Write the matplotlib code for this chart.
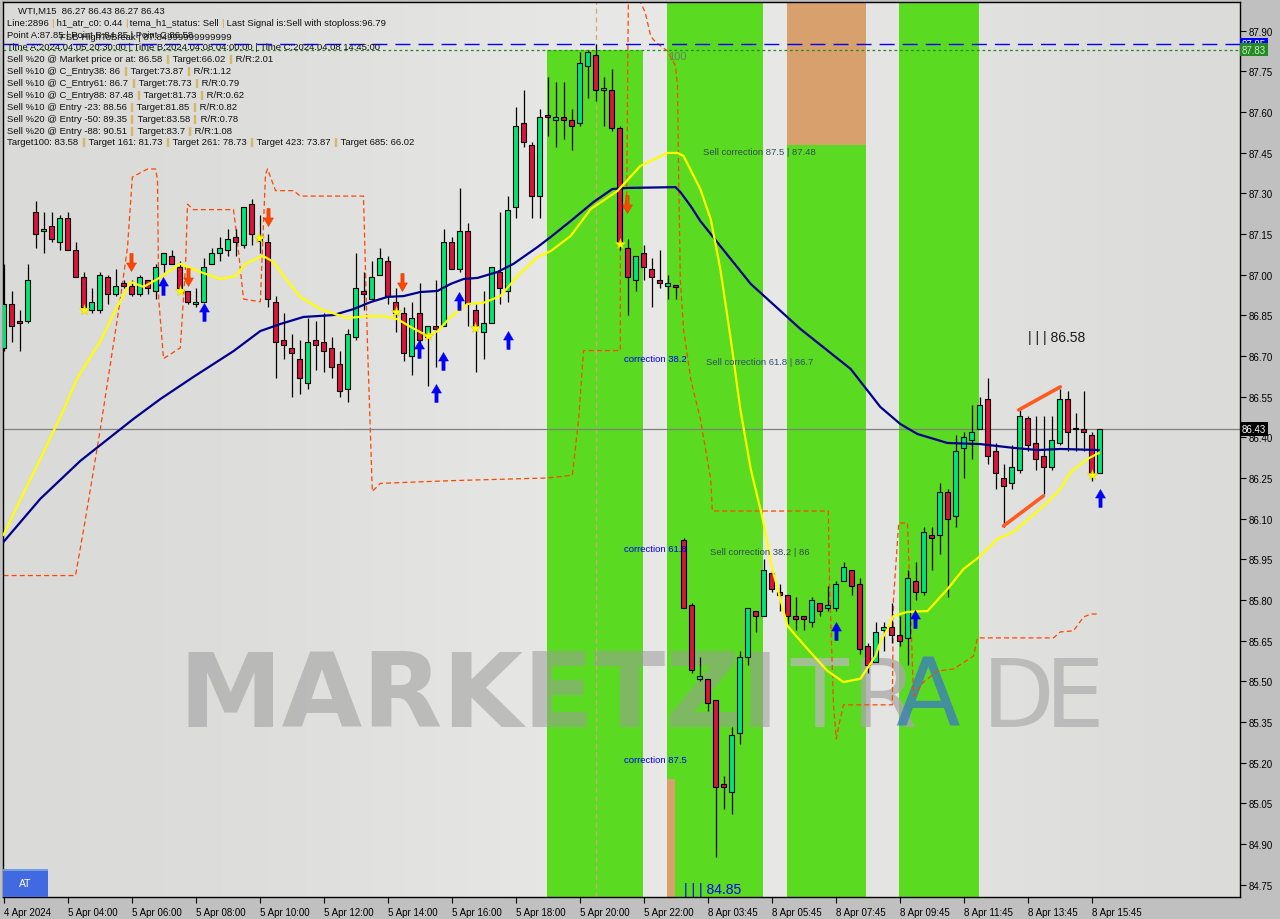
import numpy as np
import matplotlib
matplotlib.use("Agg")
import matplotlib.pyplot as plt
from matplotlib.patches import Rectangle
from matplotlib.path import Path

plt.rcParams['font.family'] = ['Liberation Sans', 'DejaVu Sans']

# ---------------- data ----------------
opens = [86.73, 86.89, 86.83, 86.83, 87.23, 87.16, 87.18, 87.12, 87.21, 87.09,
         86.99, 86.87, 86.87, 86.99, 86.93, 86.97, 86.96, 86.93, 86.98, 86.94,
         87.04, 87.07, 87.03, 86.94, 86.89, 86.90, 87.04, 87.08, 87.09, 87.14,
         87.11, 87.26, 87.13, 87.12, 86.90, 86.76, 86.73, 86.69, 86.60, 86.76,
         86.75, 86.73, 86.67, 86.58, 86.77, 86.94, 86.91, 87.00, 87.05, 86.90,
         86.86, 86.70, 86.86, 86.77, 86.81, 86.81, 87.12, 87.02, 87.16, 86.87,
         86.79, 86.82, 87.01, 86.94, 87.25, 87.56, 87.48, 87.29, 87.59, 87.57,
         87.58, 87.57, 87.56, 87.77, 87.81, 87.68, 87.68, 87.54, 87.10, 86.98,
         87.08, 87.02, 86.98, 86.96, 86.96, 86.02, 85.78, 85.51, 85.51, 85.43,
         85.12, 85.09, 85.31, 85.59, 85.76, 85.74, 85.90, 85.83, 85.82, 85.74,
         85.74, 85.72, 85.79, 85.77, 85.77, 85.87, 85.91, 85.86, 85.63, 85.57,
         85.69, 85.70, 85.67, 85.66, 85.87, 85.83, 86.04, 86.04, 86.20, 86.11,
         86.36, 86.39, 86.43, 86.54, 86.35, 86.25, 86.23, 86.28, 86.47, 86.38,
         86.33, 86.29, 86.38, 86.54, 86.43, 86.43, 86.41, 86.27]
highs = [87.04, 86.94, 86.87, 87.04, 87.27, 87.23, 87.23, 87.22, 87.23, 87.12,
         87.01, 86.95, 87.01, 87.00, 87.02, 86.98, 86.98, 87.00, 86.98, 87.04,
         87.08, 87.09, 87.05, 86.94, 86.95, 87.06, 87.10, 87.14, 87.17, 87.17,
         87.25, 87.28, 87.22, 87.15, 86.92, 86.86, 86.78, 86.76, 86.84, 86.83,
         86.86, 86.77, 86.72, 86.80, 87.08, 87.01, 87.05, 87.10, 87.07, 86.95,
         86.88, 86.90, 86.97, 86.81, 86.98, 87.17, 87.14, 87.32, 87.19, 86.89,
         86.94, 87.03, 87.23, 87.29, 87.62, 87.68, 87.49, 87.61, 87.73, 87.71,
         87.71, 87.61, 87.82, 87.83, 87.85, 87.73, 87.76, 87.55, 87.13, 87.07,
         87.11, 87.06, 87.09, 87.00, 86.96, 86.03, 85.79, 85.59, 85.51, 85.43,
         85.15, 85.33, 85.61, 85.77, 85.76, 85.95, 85.91, 85.86, 85.82, 85.81,
         85.74, 85.81, 85.79, 85.85, 85.87, 85.94, 85.91, 85.88, 85.64, 85.72,
         85.72, 85.79, 85.74, 85.91, 85.94, 86.07, 86.07, 86.23, 86.21, 86.41,
         86.42, 86.52, 86.55, 86.62, 86.38, 86.30, 86.37, 86.50, 86.48, 86.48,
         86.48, 86.48, 86.58, 86.57, 86.49, 86.57, 86.42, 86.43]
lows = [86.72, 86.75, 86.72, 86.82, 87.10, 87.08, 87.12, 87.09, 87.09, 86.99,
        86.87, 86.86, 86.86, 86.89, 86.92, 86.95, 86.92, 86.92, 86.93, 86.91,
        87.01, 87.04, 86.95, 86.89, 86.88, 86.90, 87.04, 87.05, 87.07, 87.07,
        87.10, 87.11, 87.08, 86.88, 86.62, 86.69, 86.55, 86.56, 86.58, 86.65,
        86.64, 86.62, 86.55, 86.53, 86.76, 86.87, 86.91, 87.00, 86.89, 86.79,
        86.68, 86.63, 86.74, 86.59, 86.66, 86.81, 87.02, 87.01, 86.81, 86.64,
        86.69, 86.82, 86.89, 86.90, 87.21, 87.47, 87.21, 87.21, 87.51, 87.47,
        87.50, 87.46, 87.55, 87.65, 87.64, 87.55, 87.53, 87.09, 86.85, 86.94,
        86.98, 86.88, 86.95, 86.91, 86.91, 85.77, 85.53, 85.50, 85.39, 84.85,
        85.03, 85.01, 85.27, 85.56, 85.68, 85.74, 85.83, 85.76, 85.71, 85.69,
        85.69, 85.70, 85.74, 85.76, 85.76, 85.87, 85.82, 85.60, 85.53, 85.57,
        85.61, 85.64, 85.63, 85.56, 85.80, 85.82, 85.91, 85.97, 85.81, 86.07,
        86.25, 86.32, 86.43, 86.30, 86.21, 86.07, 86.21, 86.27, 86.35, 86.28,
        86.19, 86.28, 86.37, 86.35, 86.35, 86.35, 86.24, 86.27]
closes = [86.89, 86.81, 86.82, 86.98, 87.15, 87.17, 87.13, 87.21, 87.09, 86.99,
          86.88, 86.90, 87.00, 86.93, 86.96, 86.96, 86.93, 86.99, 86.95, 87.03,
          87.08, 87.04, 86.95, 86.90, 86.90, 87.03, 87.08, 87.10, 87.13, 87.12,
          87.25, 87.15, 87.125, 86.91, 86.75, 86.74, 86.71, 86.62, 86.75, 86.74,
          86.72, 86.66, 86.57, 86.78, 86.95, 86.93, 86.99, 87.06, 86.92, 86.86,
          86.71, 86.84, 86.76, 86.81, 86.80, 87.12, 87.02, 87.16, 86.89, 86.81,
          86.82, 87.03, 86.95, 87.24, 87.55, 87.49, 87.29, 87.58, 87.58, 87.58,
          87.57, 87.55, 87.78, 87.82, 87.68, 87.69, 87.54, 87.12, 86.99, 87.07,
          87.03, 86.99, 86.97, 86.97, 86.955, 85.77, 85.54, 85.52, 85.42, 85.11,
          85.11, 85.30, 85.59, 85.77, 85.74, 85.91, 85.84, 85.82, 85.74, 85.73,
          85.73, 85.80, 85.76, 85.78, 85.86, 85.92, 85.85, 85.62, 85.56, 85.68,
          85.70, 85.67, 85.65, 85.88, 85.83, 86.05, 86.03, 86.20, 86.10, 86.35,
          86.40, 86.42, 86.52, 86.33, 86.27, 86.22, 86.29, 86.48, 86.37, 86.32,
          86.29, 86.39, 86.54, 86.42, 86.43, 86.42, 86.27, 86.43]

tick_bars = [0, 8, 16, 24, 32, 40, 48, 56, 64, 72, 80, 88, 96, 104, 112, 120, 128, 136]
tick_labels = ["4 Apr 2024", "5 Apr 04:00", "5 Apr 06:00", "5 Apr 08:00", "5 Apr 10:00",
               "5 Apr 12:00", "5 Apr 14:00", "5 Apr 16:00", "5 Apr 18:00", "5 Apr 20:00",
               "5 Apr 22:00", "8 Apr 03:45", "8 Apr 05:45", "8 Apr 07:45", "8 Apr 09:45",
               "8 Apr 11:45", "8 Apr 13:45", "8 Apr 15:45"]
price_ticks = [84.75, 84.90, 85.05, 85.20, 85.35, 85.50, 85.65, 85.80, 85.95, 86.10,
               86.25, 86.40, 86.55, 86.70, 86.85, 87.00, 87.15, 87.30, 87.45, 87.60,
               87.75, 87.90]

# fast (yellow) and slow (navy) averages
yellow_x = [0, 2.1, 4.6, 7.1, 9.25, 12.1, 14, 15.9, 17.5, 19.25, 22.1, 24.6, 27.1, 29,
            30.25, 32.4, 33.75, 35, 37.1, 39.6, 43, 45.5, 47.5, 49.25, 50.9, 53, 54.25,
            55.9, 58, 60, 62.1, 64.25, 66.75, 68.4, 70.9, 73.4, 76.75, 79.6, 83, 84.25,
            85, 87.1, 88.4, 89.6, 90.9, 92.1, 93.4, 94.9, 96.1, 98, 100.5, 103, 105,
            107.1, 109, 109.6, 110.5, 111.25, 113, 115.5, 118, 120, 122.1, 124.25,
            126.25, 128.4, 130.5, 132.1, 133.4, 135.5, 136.9]
yellow_y = [86.04, 86.17, 86.32, 86.475, 86.62, 86.755, 86.87, 86.973, 86.955, 86.984,
            87.04, 87.01, 86.984, 86.995, 87.04, 87.07, 87.047, 86.995, 86.918, 86.873,
            86.84, 86.847, 86.847, 86.836, 86.807, 86.774, 86.792, 86.844, 86.892,
            86.896, 86.921, 86.995, 87.065, 87.087, 87.143, 87.242, 87.309, 87.401,
            87.449, 87.449, 87.438, 87.316, 87.205, 87.021, 86.763, 86.504, 86.283,
            86.099, 85.914, 85.704, 85.619, 85.538, 85.497, 85.509, 85.593, 85.645,
            85.693, 85.741, 85.756, 85.759, 85.84, 85.914, 85.962, 86.025, 86.051,
            86.106, 86.161, 86.209, 86.272, 86.32, 86.342]
navy_x = [0, 4.6, 9.6, 16.25, 19.6, 23.75, 28.75, 32.1, 34.6, 37.5, 41.25, 43.75, 45.9,
          48, 50, 52.1, 54.25, 55.9, 57.5, 59.25, 61.75, 63.75, 66.75, 68.4, 70.9,
          73.75, 76.1, 78, 84, 84.6, 85.9, 87.1, 89.4, 93.4, 99.6, 105.9, 109.6,
          112.1, 114.25, 118, 122.1, 126.25, 129.25, 132.1, 136.9]
navy_y = [86.014, 86.173, 86.313, 86.468, 86.541, 86.623, 86.718, 86.792, 86.818,
          86.844, 86.851, 86.873, 86.899, 86.918, 86.921, 86.936, 86.94, 86.966,
          86.984, 86.988, 87.01, 87.04, 87.102, 87.139, 87.198, 87.268, 87.316,
          87.32, 87.323, 87.305, 87.253, 87.198, 87.113, 86.966, 86.8, 86.652,
          86.512, 86.449, 86.412, 86.379, 86.375, 86.361, 86.353, 86.357, 86.353]
# dashed envelope line
env_x = [0, 9, 10.25, 12.1, 14.4, 15.5, 16.1, 18, 19, 19.25, 19.4, 20, 22.1, 22.75, 23,
         23.75, 28.75, 29.25, 30, 32.1, 32.75, 33, 34, 36.25, 37.1, 45, 45.5, 46.1,
         47.1, 55.9, 68, 71.1, 71.9, 72.5, 77.1, 77.1, 77.9, 78.1, 78.25, 79.4, 79.6,
         80.2, 80.9, 81.5, 83, 84, 84.25, 84.4, 84.6, 85, 85.9, 87.1, 88.4, 88.6,
         103.1, 103.25, 103.75, 104.1, 104.4, 105, 111.1, 111.25, 111.9, 113, 113.75,
         115, 116.75, 118.75, 121.25, 121.75, 131.25, 132.1, 133.75, 135, 135.9, 136.9]
env_y = [85.89, 85.89, 86.10, 86.43, 86.87, 87.10, 87.36, 87.39, 87.39, 87.35, 86.91,
         86.69, 86.73, 87.03, 87.26, 87.24, 87.24, 87.12, 86.91, 86.90, 87.37, 87.39,
         87.31, 87.31, 87.29, 87.29, 86.74, 86.20, 86.23, 86.24, 86.25, 86.26, 86.47,
         86.72, 86.72, 87.216, 87.279, 88.006, 88.05, 88.05, 88.006, 87.969, 87.88,
         87.858, 87.825, 87.77, 87.696, 87.353, 86.984, 86.80, 86.615, 86.468, 86.246,
         86.128, 86.128, 85.866, 85.409, 85.287, 85.335, 85.413, 85.413, 85.804,
         86.084, 86.084, 85.446, 85.497, 85.538, 85.545, 85.593, 85.66, 85.66, 85.682,
         85.686, 85.737, 85.748, 85.748]

# zones: (start bar, end bar, top price)
green_zones = [(67.94, 79.94, 87.83), (82.94, 94.94, 88.2), (97.94, 107.8, 87.48),
               (111.94, 121.94, 88.2)]
orange_zones = [(97.94, 107.8, 87.48, 88.2), (82.94, 83.94, 84.5, 85.14)]

up_arrows_x = [19.9, 25, 51.9, 54.9, 54, 56.9, 63, 104, 113.9, 137]
up_arrows_y = [86.958, 86.862, 86.726, 86.682, 86.564, 86.903, 86.759, 85.686, 85.73, 86.176]
dn_arrows_x = [15.9, 23, 33.1, 49.75, 77.9]
dn_arrows_y = [87.047, 86.991, 87.213, 86.973, 87.261]
stars_x = [10, 22, 31.9, 49, 53, 58.9, 77, 136]
stars_y = [86.87, 86.94, 87.135, 86.862, 86.774, 86.803, 87.113, 86.261]
trend_top = ([126.9, 132.1], [86.501, 86.586])
trend_bot = ([125, 130], [86.073, 86.184])

line_A = 87.85
line_fsb = 87.83
last_price = 86.43
time_A_bar = 74

# ---------------- figure ----------------
W, H = 1280, 920
fig = plt.figure(figsize=(W / 100, H / 100), dpi=100, facecolor='#c0c0c0')
L, R, T, B = 3, 1240, 3, 898
ax = fig.add_axes([L / W, 1 - B / H, (R - L) / W, (B - T) / H])
ax.set_xlim(-0.0625, 154.56)
ax.set_ylim(84.704, 88.006)


def axp(px, py):
    return ((px - L) / (R - L), (B - py) / (B - T))


# background gradient (light centre)
gx = np.linspace(0, 1, 400)
shade = 0.855 + 0.055 * np.exp(-((gx - 0.55) / 0.30) ** 2)
bg = np.stack([shade, shade, shade * 0.992], axis=-1)[None, :, :].repeat(4, axis=0)
ax.imshow(bg, extent=[0, 1, 0, 1], transform=ax.transAxes, aspect='auto', zorder=0,
          interpolation='bilinear')

for x0, x1, top in green_zones:
    ax.add_patch(Rectangle((x0, 84.5), x1 - x0, top - 84.5, facecolor='#5ada20',
                           edgecolor='none', zorder=1))
for x0, x1, y0, y1 in orange_zones:
    ax.add_patch(Rectangle((x0, y0), x1 - x0, y1 - y0, facecolor='#d8a06c',
                           edgecolor='none', zorder=1.1))

# watermark
ax.text(*axp(178, 727), "MARKETZI", transform=ax.transAxes, fontsize=75,
        fontweight='heavy', family='DejaVu Sans', color='#9c9c9c', alpha=0.55,
        ha='left', va='baseline', zorder=1.5)
for ch, px, col in [("T", 790, '#b8b8b8'), ("R", 852, '#a8a8a8'), ("A", 895, '#3b78c4'),
                    ("D", 982, '#b0b0b0'), ("E", 1045, '#b0b0b0')]:
    ax.text(*axp(px, 727), ch, transform=ax.transAxes, fontsize=68, family='DejaVu Sans',
            color=col, alpha=0.75, ha='left', va='baseline', zorder=1.5)

# envelope dashed line and time line
ax.plot(env_x, env_y, color='#ff4500', lw=0.9, ls=(0, (4, 2.5)), zorder=2)
ax.axvline(time_A_bar, color='#d2a679', lw=0.9, ls=(0, (4, 3)), zorder=2)

# horizontal lines
ax.axhline(line_A, color='#0000ff', lw=1.0, ls=(0, (10.8, 5.8)), zorder=2.2)
ax.axhline(line_fsb, color='#228b22', lw=0.9, ls=(0, (2.2, 2.2)), zorder=2.2)
ax.axhline(last_price, color='#808080', lw=0.9, zorder=2.2)

# candles
idx = np.arange(len(opens))
o = np.array(opens); c = np.array(closes); h = np.array(highs); lo = np.array(lows)
ax.vlines(idx, lo, h, color='black', lw=0.9, zorder=3)
bull = c >= o
bottoms = np.minimum(o, c)
heights = np.maximum(np.abs(c - o), 0.006)
ax.bar(idx[bull], heights[bull], bottom=bottoms[bull], width=0.6, color='#00e676',
       edgecolor='black', linewidth=0.8, zorder=3.2)
ax.bar(idx[~bull], heights[~bull], bottom=bottoms[~bull], width=0.6, color='#dc143c',
       edgecolor='black', linewidth=0.8, zorder=3.2)

# averages
ax.plot(navy_x, navy_y, color='#00008b', lw=1.6, zorder=4)
ax.plot(yellow_x, yellow_y, color='#ffff00', lw=1.6, zorder=4.1)

# trend lines
ax.plot(*trend_top, color='#ff5a1f', lw=2.6, solid_capstyle='round', zorder=4.2)
ax.plot(*trend_bot, color='#ff5a1f', lw=2.6, solid_capstyle='round', zorder=4.2)

# signal arrows (block arrow markers)
up_path = Path([(-0.18, -1.0), (0.18, -1.0), (0.18, 0.05), (0.55, 0.05), (0.0, 1.0),
                (-0.55, 0.05), (-0.18, 0.05), (-0.18, -1.0)], closed=True)
dn_path = Path([(x, -y) for x, y in up_path.vertices], closed=True)
ax.plot(up_arrows_x, up_arrows_y, ls='none', marker=up_path, ms=13, color='#0000ff',
        mec='#0000cc', mew=0.3, zorder=5)
ax.plot(dn_arrows_x, dn_arrows_y, ls='none', marker=dn_path, ms=13, color='#ff4500',
        mec='#c83200', mew=0.3, zorder=5)
ax.plot(stars_x, stars_y, ls='none', marker='*', ms=8, color='#ffff00', mec='#e0d000',
        mew=0.4, zorder=5)

# annotations
fs_a = 6.8
ax.text(83.1, 87.807, "100", color='#5d8a5d', fontsize=8, va='center', zorder=6)
ax.text(87.4, 87.456, "Sell correction 87.5 | 87.48", color='#2f4f4f', fontsize=fs_a,
        va='center', zorder=6)
ax.text(77.5, 86.689, "correction 38.2", color='#0000ff', fontsize=fs_a, va='center', zorder=6)
ax.text(87.75, 86.678, "Sell correction 61.8 | 86.7", color='#2f4f6f', fontsize=fs_a,
        va='center', zorder=6)
ax.text(77.5, 85.988, "correction 61.8", color='#0000ff', fontsize=fs_a, va='center', zorder=6)
ax.text(88.25, 85.977, "Sell correction 38.2 | 86", color='#2f4f4f', fontsize=fs_a,
        va='center', zorder=6)
ax.text(77.5, 85.213, "correction 87.5", color='#0000ff', fontsize=fs_a, va='center', zorder=6)
ax.text(85, 84.734, "| | | 84.85", color='#0000ff', fontsize=10, va='center', zorder=6)
ax.text(128, 86.77, "| | | 86.58", color='#1a1a1a', fontsize=10, va='center', zorder=6)

# info block (top-left)
fs_i = 6.8
ORG = '#d4a020'


def chain(px, py, segs):
    t = ax.text(*axp(px, py), segs[0][0], color=segs[0][1], transform=ax.transAxes,
                fontsize=fs_i, ha='left', va='center', zorder=7)
    for s, col in segs[1:]:
        t = ax.annotate(s, xy=(1, 0), xycoords=t, xytext=(0, 0), textcoords='offset points',
                        ha='left', va='bottom', color=col, fontsize=fs_i, zorder=7)


K = '#101010'
chain(18, 11, [("WTI,M15  86.27 86.43 86.27 86.43", K)])
chain(7, 23, [("Line:2896 ", K), ("|", ORG), (" h1_atr_c0: 0.44 ", K), ("|", ORG),
              (" tema_h1_status: Sell ", K), ("|", ORG),
              (" Last Signal is:Sell with stoploss:96.79", K)])
chain(7, 35, [("Point A:87.85 | Point B:84.85 | Point C:86.58", K)])
chain(60, 38, [("FSB-HighToBreak | 87.84999999999999", K)])
chain(7, 47, [("Time A:2024.04.05 20:30:00 | Time B:2024.04.08 04:00:00 | Time C:2024.04.08 14:45:00", K)])
sell_lines = [
    ("Sell %20 @ Market price or at: 86.58 ", "Target:66.02 ", "R/R:2.01"),
    ("Sell %10 @ C_Entry38: 86 ", "Target:73.87 ", "R/R:1.12"),
    ("Sell %10 @ C_Entry61: 86.7 ", "Target:78.73 ", "R/R:0.79"),
    ("Sell %10 @ C_Entry88: 87.48 ", "Target:81.73 ", "R/R:0.62"),
    ("Sell %10 @ Entry -23: 88.56 ", "Target:81.85 ", "R/R:0.82"),
    ("Sell %20 @ Entry -50: 89.35 ", "Target:83.58 ", "R/R:0.78"),
    ("Sell %20 @ Entry -88: 90.51 ", "Target:83.7 ", "R/R:1.08"),
]
for k, (a, b, r) in enumerate(sell_lines):
    chain(7, 59 + 12 * k, [(a, K), ("||", ORG), (" " + b, K), ("||", ORG), (" " + r, K)])
chain(7, 143, [("Target100: 83.58 ", K), ("||", ORG), (" Target 161: 81.73 ", K), ("||", ORG),
               (" Target 261: 78.73 ", K), ("||", ORG), (" Target 423: 73.87 ", K),
               ("||", ORG), (" Target 685: 66.02", K)])

# axes styling
for s in ax.spines.values():
    s.set_color('black'); s.set_linewidth(1.0)
ax.yaxis.tick_right()
ax.set_yticks(price_ticks)
ax.set_yticklabels([f"{p:.2f}" for p in price_ticks])
ax.tick_params(axis='y', direction='out', length=4, pad=2, labelsize=7, colors='black')
ax.set_xticks(tick_bars)
ax.set_xticklabels(tick_labels, ha='left')
ax.tick_params(axis='x', direction='out', length=4, pad=3, labelsize=7, colors='black')


# price boxes on the right axis
def pbox(price, txt, fc, tc):
    ax.text(1.0015, price, txt, transform=ax.get_yaxis_transform(), fontsize=7, color=tc,
            ha='left', va='center', zorder=10, clip_on=False,
            bbox=dict(boxstyle='square,pad=0.18', fc=fc, ec='none'))


pbox(line_A, "87.85", '#0000ff', 'white')
pbox(line_fsb, "87.83", '#228b22', '#d8e8d0')
pbox(last_price, "86.43", 'black', 'white')

# AT button
fig.patches.append(Rectangle((3 / W, 1 - 898 / H), 45 / W, 28 / H, transform=fig.transFigure,
                             facecolor='#4169e1', edgecolor='none', zorder=20))
fig.patches.append(Rectangle((3 / W, 1 - 872 / H), 45 / W, 2 / H, transform=fig.transFigure,
                             facecolor='#6fa0e0', edgecolor='none', zorder=21))
fig.text(25 / W, 1 - 884 / H, "AT", color='white', fontsize=7.5, ha='center', va='center',
         zorder=22)

fig.savefig("out.png", dpi=100, facecolor=fig.get_facecolor())
